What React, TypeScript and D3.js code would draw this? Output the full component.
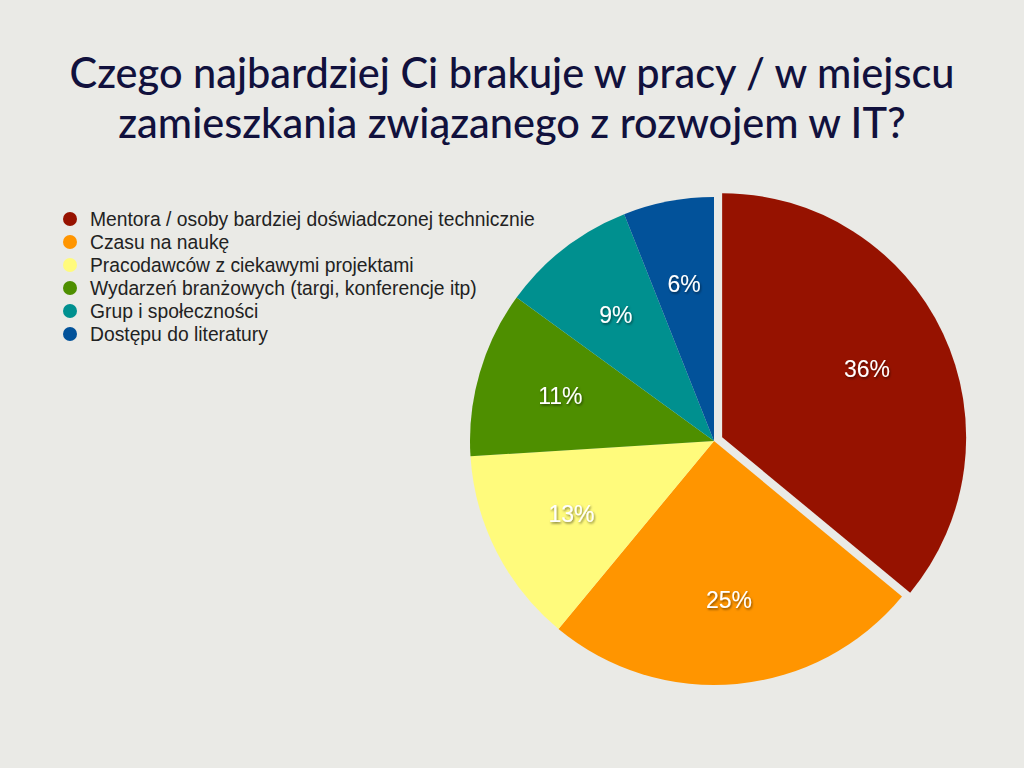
import React, { useRef, useEffect } from 'react';
import * as d3 from 'd3';

const categories = [
  'Mentora / osoby bardziej doświadczonej technicznie',
  'Czasu na naukę',
  'Pracodawców z ciekawymi projektami',
  'Wydarzeń branżowych (targi, konferencje itp)',
  'Grup i społeczności',
  'Dostępu do literatury',
];
const values = [36, 25, 13, 11, 9, 6];
const colors = ['#961200', '#ff9500', '#fffb7c', '#4e8f00', '#00908f', '#02529a'];
const titleLines = [
  'Czego najbardziej Ci brakuje w pracy / w miejscu',
  'zamieszkania związanego z rozwojem w IT?',
];

function App() {
  const ref = useRef<SVGSVGElement | null>(null);

  useEffect(() => {
    const width = 1024;
    const height = 768;
    const svg = d3.select(ref.current);
    svg.selectAll('*').remove();

    svg.append('rect').attr('width', width).attr('height', height).attr('fill', '#eaeae6');

    const defs = svg.append('defs');
    const f = defs.append('filter').attr('id', 'shadow').attr('x', '-20%').attr('y', '-20%').attr('width', '140%').attr('height', '140%');
    f.append('feDropShadow')
      .attr('dx', 1).attr('dy', 1.5).attr('stdDeviation', 1)
      .attr('flood-color', '#000').attr('flood-opacity', 0.5);

    // title
    svg.selectAll('.title')
      .data(titleLines)
      .enter()
      .append('text')
      .attr('class', 'title')
      .attr('x', width / 2)
      .attr('y', (d, i) => 88 + i * 50)
      .attr('text-anchor', 'middle')
      .attr('font-family', 'Lato, sans-serif')
      .attr('font-size', 41.5)
      .attr('font-weight', 500)
      .attr('fill', '#11113d')
      .text((d) => d);

    // legend
    const legend = svg.append('g').attr('transform', 'translate(70, 219)');
    const rows = legend.selectAll('.legend-row')
      .data(categories)
      .enter()
      .append('g')
      .attr('class', 'legend-row')
      .attr('transform', (d, i) => `translate(0, ${i * 23})`);
    rows.append('circle').attr('r', 7).attr('fill', (d, i) => colors[i]);
    rows.append('text')
      .attr('x', 20)
      .attr('dy', '0.35em')
      .attr('font-family', '"Liberation Sans", Arial, sans-serif')
      .attr('font-size', 19.3)
      .attr('fill', '#222')
      .text((d) => d);

    // pie
    const radius = 244;
    const cx = 714;
    const cy = 441;
    const pie = d3.pie<number>().sort(null).value((d) => d);
    const arcs = pie(values);
    const arc = d3.arc<d3.PieArcDatum<number>>().innerRadius(0).outerRadius(radius);
    const labelArc = d3.arc<d3.PieArcDatum<number>>().innerRadius(160).outerRadius(160);
    const explode = 9;

    const g = svg.append('g').attr('transform', `translate(${cx}, ${cy})`);
    const slices = g.selectAll('.slice')
      .data(arcs)
      .enter()
      .append('g')
      .attr('class', 'slice')
      .attr('transform', (d, i) => {
        if (i !== 0) return null;
        const a = (d.startAngle + d.endAngle) / 2;
        return `translate(${explode * Math.sin(a)}, ${-explode * Math.cos(a)})`;
      });

    slices.append('path')
      .attr('d', (d) => arc(d))
      .attr('fill', (d, i) => colors[i]);

    slices.append('text')
      .attr('transform', (d) => `translate(${labelArc.centroid(d)})`)
      .attr('text-anchor', 'middle')
      .attr('dy', '0.35em')
      .attr('font-family', '"Liberation Sans", Arial, sans-serif')
      .attr('font-size', 23)
      .attr('fill', '#fff')
      .attr('filter', 'url(#shadow)')
      .text((d) => `${d.data}%`);
  }, []);

  return (
    <svg
      ref={ref}
      width={1024}
      height={768}
      style={{ position: 'absolute', top: 0, left: 0 }}
    />
  );
}

export default App;
